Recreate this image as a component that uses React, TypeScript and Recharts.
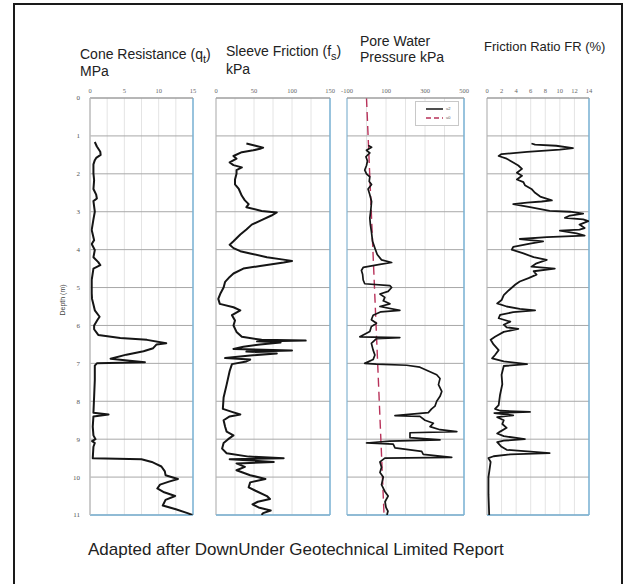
import { LineChart, Line, XAxis, YAxis, CartesianGrid, ReferenceLine } from 'recharts';

// [depth (m), value] pairs
const CONE_RESISTANCE: [number, number][] = [
    [1.16, 0.7], [1.28, 1.0], [1.42, 1.5], [1.5, 1.55], [1.58, 0.9], [1.64, 0.7], [1.75, 0.5], [1.99, 0.5],
    [2.17, 0.6], [2.4, 0.5], [2.55, 0.9], [2.65, 1.0], [2.72, 0.5], [3.0, 0.7], [3.2, 0.5], [3.48, 0.25],
    [3.75, 0.6], [3.85, 0.25], [4.01, 0.7], [4.2, 0.5], [4.33, 1.2], [4.41, 1.5], [4.5, 0.5], [4.8, 0.25],
    [5.15, 0.25], [5.3, 0.3], [5.45, 0.5], [5.6, 0.7], [5.77, 1.4], [5.85, 1.1], [6.0, 0.6], [6.1, 0.6],
    [6.25, 1.2], [6.33, 4.4], [6.38, 8.3], [6.47, 11.1], [6.5, 9.7], [6.6, 9.2], [6.68, 7.8], [6.77, 5.3],
    [6.88, 3.0], [6.93, 5.8], [6.97, 8.0], [7.0, 1.0], [7.06, 0.7], [7.44, 0.7], [7.88, 0.6], [8.3, 0.5],
    [8.35, 2.7], [8.4, 0.5], [8.67, 0.4], [8.9, 0.5], [9.0, 0.8], [9.05, 0.3], [9.1, 0.7], [9.2, 0.5],
    [9.5, 0.4], [9.53, 7.5], [9.6, 9.0], [9.65, 9.6], [9.72, 10.4], [9.85, 10.9], [9.95, 11.0], [10.05, 12.8],
    [10.12, 11.5], [10.2, 10.2], [10.3, 9.8], [10.4, 10.8], [10.5, 12.4], [10.6, 11.0], [10.75, 10.6],
    [10.85, 12.5], [10.95, 14.2], [11.0, 14.9],
];

const SLEEVE_FRICTION: [number, number][] = [
    [1.2, 40], [1.26, 52], [1.31, 62], [1.34, 58], [1.38, 49], [1.43, 34], [1.53, 23], [1.6, 27], [1.7, 18],
    [1.77, 23], [1.83, 34], [1.9, 27], [2.0, 27], [2.15, 25], [2.28, 25], [2.4, 30], [2.58, 34], [2.7, 38],
    [2.8, 43], [2.88, 40], [2.98, 60], [3.02, 80], [3.1, 73], [3.2, 62], [3.34, 47], [3.47, 40], [3.6, 32],
    [3.7, 27], [3.78, 23], [3.87, 18], [3.96, 23], [4.04, 32], [4.1, 45], [4.2, 67], [4.27, 91], [4.3, 100],
    [4.34, 89], [4.43, 58], [4.5, 36], [4.63, 23], [4.72, 18], [4.85, 12], [5.0, 10], [5.15, 6], [5.3, 3],
    [5.43, 5], [5.52, 23], [5.6, 32], [5.73, 21], [5.87, 25], [6.0, 23], [6.17, 27], [6.3, 34], [6.38, 60],
    [6.4, 118], [6.42, 54], [6.45, 85], [6.5, 58], [6.56, 36], [6.62, 23], [6.66, 100], [6.69, 40],
    [6.74, 80], [6.79, 45], [6.86, 12], [6.9, 45], [6.95, 40], [7.02, 21], [7.2, 18], [7.56, 14], [7.9, 10],
    [8.2, 9], [8.28, 21], [8.35, 32], [8.4, 18], [8.5, 10], [8.67, 12], [8.8, 14], [8.9, 23], [9.0, 16],
    [9.1, 10], [9.25, 8], [9.37, 14], [9.46, 43], [9.5, 89], [9.53, 18], [9.6, 76], [9.64, 27], [9.73, 38],
    [9.82, 27], [9.95, 45], [10.05, 65], [10.14, 45], [10.27, 43], [10.36, 52], [10.5, 67], [10.58, 71],
    [10.65, 55], [10.72, 48], [10.8, 56], [10.88, 72], [10.95, 62], [11.0, 60],
];

const PORE_PRESSURE_U2: [number, number][] = [
    [1.25, 9], [1.3, 26], [1.38, 0], [1.45, 17], [1.55, -3], [1.66, 5], [1.78, 0], [1.9, -9], [2.0, 0],
    [2.08, 17], [2.2, 14], [2.28, 26], [2.4, 8], [2.55, 17], [2.73, 26], [2.96, 22], [3.17, 17], [3.34, 20],
    [3.56, 26], [3.78, 31], [3.96, 43], [4.13, 55], [4.27, 77], [4.34, 129], [4.39, 69], [4.47, -17],
    [4.55, -26], [4.65, -20], [4.8, -17], [4.9, -9], [4.95, 120], [5.0, 129], [5.1, 111], [5.17, 69],
    [5.26, 94], [5.35, 86], [5.43, 120], [5.5, 69], [5.6, 171], [5.64, 74], [5.73, 34], [5.85, 25],
    [5.94, 51], [6.03, 25], [6.16, 17], [6.3, -34], [6.32, 171], [6.35, 51], [6.47, 25], [6.65, 34],
    [6.78, 43], [6.9, 34], [7.0, -9], [7.02, 51], [7.05, 206], [7.1, 274], [7.2, 317], [7.3, 360],
    [7.4, 377], [7.56, 369], [7.74, 386], [7.87, 377], [8.0, 360], [8.13, 351], [8.2, 334], [8.3, 317],
    [8.38, 146], [8.4, 274], [8.5, 300], [8.58, 343], [8.67, 326], [8.75, 377], [8.8, 463], [8.83, 223],
    [8.96, 223], [9.02, 377], [9.05, 120], [9.1, 0], [9.13, 137], [9.23, 146], [9.32, 283], [9.4, 291],
    [9.48, 437], [9.5, 94], [9.6, 69], [9.74, 77], [9.88, 69], [10.0, 86], [10.2, 77], [10.38, 94],
    [10.5, 111], [10.65, 95], [10.8, 100], [10.9, 110], [11.0, 105],
];

// hydrostatic line u0, straight from surface to bottom
const PORE_PRESSURE_U0: [number, number][] = [
    [0, 0], [11, 90],
];

const FRICTION_RATIO: [number, number][] = [
    [1.2, 6.1], [1.23, 6.6], [1.26, 9.5], [1.32, 11.8], [1.36, 10], [1.42, 5.5], [1.48, 2.0], [1.53, 1.6],
    [1.6, 2.7], [1.7, 3.6], [1.78, 4.3], [1.87, 4.8], [1.97, 4.1], [2.05, 4.8], [2.15, 4.1], [2.22, 5.0],
    [2.3, 5.2], [2.4, 6.1], [2.5, 6.6], [2.6, 7.3], [2.7, 8.9], [2.73, 7.5], [2.76, 5.5], [2.8, 3.6],
    [2.88, 5.9], [2.98, 8.6], [3.0, 11.4], [3.05, 13.2], [3.1, 11.4], [3.16, 10.7], [3.2, 13.2], [3.25, 13.9],
    [3.34, 12.7], [3.43, 13.4], [3.47, 12.7], [3.5, 10], [3.57, 12.3], [3.63, 13.4], [3.67, 8.2], [3.72, 4.5],
    [3.78, 7.7], [3.84, 5.9], [3.93, 3.6], [4.0, 3.4], [4.1, 5.0], [4.2, 6.4], [4.27, 8.2], [4.36, 6.8],
    [4.45, 6.1], [4.5, 9.3], [4.57, 6.4], [4.66, 6.8], [4.75, 5.7], [4.84, 4.5], [4.92, 3.9], [5.07, 3.0],
    [5.2, 2.3], [5.33, 2.0], [5.42, 1.4], [5.5, 2.7], [5.56, 4.5], [5.6, 6.6], [5.65, 3.6], [5.72, 1.8],
    [5.81, 1.6], [5.9, 3.2], [5.98, 2.3], [6.05, 2.7], [6.09, 4.3], [6.17, 2.3], [6.3, 1.1], [6.38, 0.5],
    [6.5, 0.9], [6.65, 1.6], [6.78, 1.1], [6.87, 0.7], [6.95, 2.3], [7.02, 5.5], [7.07, 2.3], [7.3, 2.0],
    [7.55, 2.1], [7.82, 1.8], [8.1, 1.6], [8.2, 1.1], [8.25, 1.8], [8.28, 5.9], [8.31, 1.0], [8.37, 3.6],
    [8.42, 1.4], [8.5, 2.3], [8.6, 2.1], [8.7, 2.7], [8.8, 1.8], [8.85, 1.4], [8.92, 2.3], [9.0, 5.2],
    [9.04, 2.3], [9.08, 1.4], [9.2, 2.0], [9.28, 2.7], [9.37, 8.6], [9.4, 3.2], [9.45, 0.9], [9.5, 0.2],
    [9.6, 0.5], [10.0, 0.2], [10.45, 0.2], [11.0, 0.3],
];

const DEPTH_TICKS = [0, 1, 2, 3, 4, 5, 6, 7, 8, 9, 10, 11];

const CONE_TICKS = [0, 2.5, 5, 7.5, 10, 12.5, 15];
const CONE_LABELS = [0, 5, 10, 15];
const SLEEVE_TICKS = [0, 25, 50, 75, 100, 125, 150];
const SLEEVE_LABELS = [0, 50, 100, 150];
const PORE_TICKS = [-100, 0, 100, 200, 300, 400, 500];
const PORE_LABELS = [-100, 100, 300, 500];
const RATIO_TICKS = [0, 2, 4, 6, 8, 10, 12, 14];

const LEGEND_ITEMS = [
    { label: 'u2', color: '#151515', dash: undefined },
    { label: 'u0', color: '#b8325a', dash: '5 3' },
];

const PLOT_TOP = 98;
const PLOT_HEIGHT = 417;
const AXIS_TOP = 18;
const SIDE = 12;
const BLUE = '#7ab3d6';
const SANS = '"Liberation Sans", Arial, sans-serif';

const toRows = (pts: [number, number][]) => pts.map(([depth, v]) => ({ depth, v }));

// u2 and u0 share one table: rows keyed by depth, u0 only where it was read
function poreRows() {
    const byDepth = new Map<number, { depth: number; v?: number; u0?: number }>();
    PORE_PRESSURE_U2.forEach(([depth, v]) => byDepth.set(depth, { depth, v }));
    PORE_PRESSURE_U0.forEach(([depth, u0]) => {
        const row = byDepth.get(depth) || { depth };
        byDepth.set(depth, { ...row, u0 });
    });
    return [...byDepth.values()].sort((a, b) => a.depth - b.depth);
}

interface Panel {
    key: string;
    left: number;
    width: number;
    domain: [number, number];
    ticks: number[];
    labels: number[];
    data: any[];
    showDepth?: boolean;
    leftBorder: string;
    hydrostatic?: boolean;
    lineWidth: number;
}

const PANELS: Panel[] = [
    { key: 'qc', left: 90, width: 103, domain: [0, 15], ticks: CONE_TICKS, labels: CONE_LABELS, data: toRows(CONE_RESISTANCE), showDepth: true, leftBorder: '#b5b5b5', lineWidth: 2 },
    { key: 'fs', left: 216, width: 114, domain: [0, 150], ticks: SLEEVE_TICKS, labels: SLEEVE_LABELS, data: toRows(SLEEVE_FRICTION), leftBorder: '#b5b5b5', lineWidth: 2 },
    { key: 'u', left: 347, width: 117, domain: [-100, 500], ticks: PORE_TICKS, labels: PORE_LABELS, data: poreRows(), leftBorder: BLUE, hydrostatic: true, lineWidth: 1.7 },
    { key: 'fr', left: 487, width: 102, domain: [0, 14], ticks: RATIO_TICKS, labels: RATIO_TICKS, data: toRows(FRICTION_RATIO), leftBorder: '#b5b5b5', lineWidth: 1.8 },
];

function LogPanel({ panel }: { panel: Panel }) {
    const offsetLeft = panel.showDepth ? 24 : SIDE;
    const chartWidth = offsetLeft + panel.width + SIDE;
    const chartHeight = AXIS_TOP + PLOT_HEIGHT + 3;

    return (
        <div style={{ position: 'absolute', left: panel.left - offsetLeft, top: PLOT_TOP - AXIS_TOP }}>
            <LineChart
                layout="vertical"
                width={chartWidth}
                height={chartHeight}
                data={panel.data}
                margin={{ top: 4, right: SIDE, bottom: 3, left: panel.showDepth ? 0 : SIDE }}
            >
                <CartesianGrid horizontal={false} stroke="#e4e4e4" />
                <CartesianGrid vertical={false} stroke="#a8a8a8" />
                <XAxis
                    type="number"
                    orientation="top"
                    domain={panel.domain}
                    ticks={panel.ticks}
                    interval={0}
                    allowDataOverflow
                    height={14}
                    tickSize={4}
                    tickMargin={1}
                    tickLine={false}
                    axisLine={{ stroke: '#9a9a9a' }}
                    tick={{ fontSize: 6.5, fill: '#666', fontFamily: '"Liberation Serif", serif' }}
                    tickFormatter={(t: number) => (panel.labels.includes(t) ? String(t) : '')}
                />
                <YAxis
                    type="number"
                    dataKey="depth"
                    domain={[0, 11]}
                    ticks={DEPTH_TICKS}
                    interval={0}
                    allowDataOverflow
                    hide={!panel.showDepth}
                    width={24}
                    tickSize={4}
                    tickMargin={6}
                    tickLine={false}
                    axisLine={{ stroke: '#c4c4c4' }}
                    tick={{ fontSize: 7, fill: '#555', fontFamily: '"Liberation Serif", serif' }}
                />
                <ReferenceLine x={panel.domain[0]} stroke={panel.leftBorder} strokeWidth={1} />
                <ReferenceLine x={panel.domain[1]} stroke={BLUE} strokeWidth={1.5} />
                <ReferenceLine y={11} stroke={BLUE} strokeWidth={1.5} />
                {panel.hydrostatic && (
                    <Line
                        dataKey="u0"
                        stroke="#b8325a"
                        strokeWidth={1.4}
                        strokeDasharray="9 5"
                        dot={false}
                        connectNulls
                        isAnimationActive={false}
                    />
                )}
                <Line
                    dataKey="v"
                    stroke="#151515"
                    strokeWidth={panel.lineWidth}
                    strokeLinejoin="round"
                    dot={false}
                    isAnimationActive={false}
                />
            </LineChart>
        </div>
    );
}

export default function App() {
    const title = { position: 'absolute' as const, fontFamily: SANS, fontSize: 14, lineHeight: '16px', color: '#222', whiteSpace: 'nowrap' as const };

    return (
        <div style={{ position: 'absolute', left: 0, top: 0, width: 637, height: 584, background: '#fff', overflow: 'hidden' }}>
            {/* outer frame */}
            <div style={{ position: 'absolute', left: 13, top: 3, width: 606, height: 600, border: '2px solid #1a1a1a' }} />

            {/* column titles */}
            <div style={{ ...title, left: 80, top: 46 }}>Cone Resistance (q<sub style={{ fontSize: 11 }}>t</sub>)</div>
            <div style={{ ...title, left: 80, top: 63 }}>MPa</div>
            <div style={{ ...title, left: 226, top: 43 }}>Sleeve Friction (f<sub style={{ fontSize: 11 }}>s</sub>)</div>
            <div style={{ ...title, left: 226, top: 61 }}>kPa</div>
            <div style={{ ...title, left: 360, top: 33 }}>Pore Water</div>
            <div style={{ ...title, left: 360, top: 49 }}>Pressure kPa</div>
            <div style={{ ...title, left: 484, top: 39, fontSize: 13 }}>Friction Ratio FR (%)</div>

            {PANELS.map(p => <LogPanel key={p.key} panel={p} />)}

            {/* depth axis title */}
            <div style={{
                position: 'absolute', left: 62, top: 300, transform: 'translate(-50%, -50%) rotate(-90deg)',
                fontFamily: SANS, fontSize: 7, color: '#444', whiteSpace: 'nowrap',
            }}>
                Depth (m)
            </div>

            {/* u2 / u0 key */}
            <div style={{
                position: 'absolute', left: 415, top: 101, width: 44, height: 25, background: '#fff',
                border: '1px solid #c8c8c8', boxSizing: 'border-box',
            }}>
                {LEGEND_ITEMS.map((item, i) => (
                    <div key={item.label} style={{ position: 'absolute', left: 10, top: 4 + i * 9, display: 'flex', alignItems: 'center', gap: 3 }}>
                        <svg width={17} height={6}>
                            <line x1={0} y1={3} x2={17} y2={3} stroke={item.color} strokeWidth={1.5} strokeDasharray={item.dash} />
                        </svg>
                        <span style={{ fontFamily: SANS, fontSize: 4, color: '#555', lineHeight: '6px' }}>{item.label}</span>
                    </div>
                ))}
            </div>

            <div style={{ position: 'absolute', left: 88, top: 540, fontFamily: SANS, fontSize: 17, lineHeight: '20px', color: '#222', whiteSpace: 'nowrap' }}>
                Adapted after DownUnder Geotechnical Limited Report
            </div>
        </div>
    );
}
